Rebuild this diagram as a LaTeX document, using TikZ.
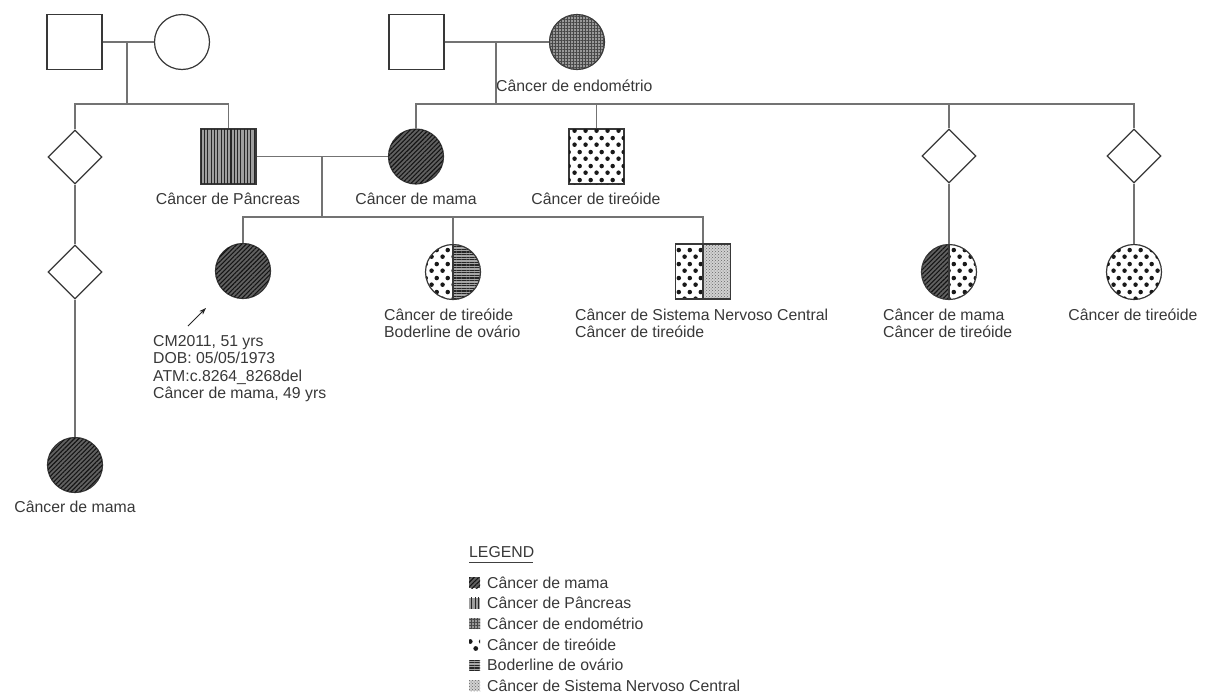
\documentclass[tikz,border=0pt]{standalone}
\usepackage{fontspec}
\setmainfont{Liberation Sans}
\usetikzlibrary{patterns,patterns.meta,shapes.geometric,arrows.meta}
\pgfdeclarepatternformonly{bigdots}{\pgfpointorigin}{\pgfqpoint{11pt}{14pt}}{\pgfqpoint{11pt}{14pt}}{%
  \pgfpathcircle{\pgfqpoint{2.75pt}{3.5pt}}{2.4pt}%
  \pgfpathcircle{\pgfqpoint{8.25pt}{10.5pt}}{2.4pt}%
  \pgfusepath{fill}}
\tikzset{
  con/.style={draw=black!55, line width=1.1pt},
  symb/.style={draw=black!78, line width=1.2pt, inner sep=0pt, fill=white},
  male/.style={symb, rectangle, minimum size=55pt},
  female/.style={symb, circle, minimum size=55pt},
  unk/.style={symb, diamond, aspect=1, minimum width=54pt, minimum height=54pt},
  lbl/.style={font=\fontsize{15.8}{18}\selectfont, text=black!78, inner sep=0pt},
  mamafill/.style={fill=black!62, postaction={pattern={Lines[angle=45,distance=3.2pt,line width=1.1pt]}, pattern color=black!92}},
  pancfill/.style={fill=black!38, postaction={pattern={Lines[angle=90,distance=3.3pt,line width=1.1pt]}, pattern color=black!85}},
  endofill/.style={fill=black!40, postaction={pattern={Lines[angle=0,distance=3pt,line width=0.6pt]}, pattern color=black!72}, postaction={pattern={Lines[angle=90,distance=3pt,line width=0.6pt]}, pattern color=black!72}},
  thyfill/.style={fill=white, postaction={pattern=bigdots, pattern color=black!90}},
  ovfill/.style={fill=black!35, postaction={pattern={Lines[angle=0,distance=2.6pt,line width=1.1pt]}, pattern color=black!85}},
  snsfill/.style={fill=black!18, postaction={pattern=crosshatch dots, pattern color=black!60}},
  half/.style 2 args={path picture={
      \path[#1] (path picture bounding box.north west) rectangle (path picture bounding box.south);
      \path[#2] (path picture bounding box.north) rectangle (path picture bounding box.south east);
      \draw[black!78, line width=1.2pt] (path picture bounding box.north) -- (path picture bounding box.south);}},
  licon/.style={rectangle, minimum size=11pt, inner sep=0pt},
}
\begin{document}
\begin{tikzpicture}[x=1pt, y=-1pt]
\useasboundingbox (0,0) rectangle (1211,694);
% generation I
\node[male] (gf1) at (74.5,42) {};
\node[female] (gm1) at (182,42) {};
\node[male] (gf2) at (416.5,42) {};
\node[female, endofill] (gm2) at (577,42) {};
\node[lbl, anchor=base west] (lgm2) at (496,91) {Câncer de endométrio};
% generation II
\node[unk] (d1) at (75,157) {};
\node[male, pancfill] (pf) at (228.5,156.5) {};
\node[female, mamafill] (mm) at (416,156.5) {};
\node[male, thyfill] (tu) at (596.5,156.5) {};
\node[unk] (d3) at (949,156) {};
\node[unk] (d4) at (1134,156) {};
\node[lbl, anchor=base] (lpf) at (228,204) {Câncer de Pâncreas};
\node[lbl, anchor=base] (lmm) at (416,204) {Câncer de mama};
\node[lbl, anchor=base] (ltu) at (596,204) {Câncer de tireóide};
% generation III
\node[unk] (d2) at (75,272) {};
\node[female, mamafill] (pb) at (243,271) {};
\node[female, half={thyfill}{ovfill}] (sb2) at (453,272) {};
\node[male, half={thyfill}{snsfill}] (sb3) at (703,271.5) {};
\node[female, half={mamafill}{thyfill}] (c1) at (949,272) {};
\node[female, thyfill] (c2) at (1134,272) {};
% generation IV
\node[female, mamafill] (w) at (75,465) {};
\node[lbl, anchor=base] (lw) at (75,512) {Câncer de mama};
% labels gen III
\node[lbl, anchor=base west] (lpb1) at (153,346) {CM2011, 51 yrs};
\node[lbl, anchor=base west] (lpb2) at (153,363.5) {DOB: 05/05/1973};
\node[lbl, anchor=base west] (lpb3) at (153,381) {ATM:c.8264\_8268del};
\node[lbl, anchor=base west] (lpb4) at (153,398.5) {Câncer de mama, 49 yrs};
\node[lbl, anchor=base west] (lsb2a) at (384,320) {Câncer de tireóide};
\node[lbl, anchor=base west] (lsb2b) at (384,337) {Boderline de ovário};
\node[lbl, anchor=base west] (lsb3a) at (575,320) {Câncer de Sistema Nervoso Central};
\node[lbl, anchor=base west] (lsb3b) at (575,337) {Câncer de tireóide};
\node[lbl, anchor=base west] (lc1a) at (883,320) {Câncer de mama};
\node[lbl, anchor=base west] (lc1b) at (883,337) {Câncer de tireóide};
\node[lbl, anchor=base] (lc2) at (1133,320) {Câncer de tireóide};
% connectors
\coordinate (m1) at (127,42);
\coordinate (sib1) at (127,104);
\draw[con] (gf1.east) -- (gm1.west);
\draw[con] (m1) -- (sib1);
\draw[con] (d1.north) |- (pf.north |- sib1) -- (pf.north);
\coordinate (m2) at (496,42);
\coordinate (sib2) at (496,104);
\draw[con] (gf2.east) -- (gm2.west);
\draw[con] (m2) -- (sib2);
\draw[con] (mm.north) |- (d4.north |- sib2) -- (d4.north);
\draw[con] (tu.north) -- (tu.north |- sib2);
\draw[con] (d3.north) -- (d3.north |- sib2);
\coordinate (m3) at (322,156.5);
\coordinate (sib3) at (322,217);
\draw[con] (pf.east) -- (mm.west);
\draw[con] (m3) -- (sib3);
\draw[con] (pb.north) |- (sb3.north |- sib3) -- (sb3.north);
\draw[con] (sb2.north) -- (sb2.north |- sib3);
\draw[con] (d3.south) -- (c1.north);
\draw[con] (d4.south) -- (c2.north);
\draw[con] (d1.south) -- (d2.north);
\draw[con] (d2.south) -- (w.north);
% proband arrow
\coordinate (arS) at (188,326);
\coordinate (arE) at (206,308);
\draw[black!85, line width=1pt, -{Stealth[length=7pt,width=5pt]}] (arS) -- (arE);
% legend
\node[lbl, anchor=base west] (lgt) at (469,557) {LEGEND};
\coordinate (ulA) at (469,562);
\coordinate (ulB) at (533,562);
\draw[black!75, line width=1pt] (ulA) -- (ulB);
\node[licon, mamafill] (li1) at (474.5,582.5) {};
\node[licon, pancfill] (li2) at (474.5,603) {};
\node[licon, endofill] (li3) at (474.5,623.5) {};
\node[licon, thyfill] (li4) at (474.5,644.5) {};
\node[licon, ovfill] (li5) at (474.5,665) {};
\node[licon, snsfill] (li6) at (474.5,685.5) {};
\node[lbl, anchor=base west] (lt1) at (487,588) {Câncer de mama};
\node[lbl, anchor=base west] (lt2) at (487,608.5) {Câncer de Pâncreas};
\node[lbl, anchor=base west] (lt3) at (487,629) {Câncer de endométrio};
\node[lbl, anchor=base west] (lt4) at (487,650) {Câncer de tireóide};
\node[lbl, anchor=base west] (lt5) at (487,670.5) {Boderline de ovário};
\node[lbl, anchor=base west] (lt6) at (487,691) {Câncer de Sistema Nervoso Central};
\end{tikzpicture}
\end{document}
